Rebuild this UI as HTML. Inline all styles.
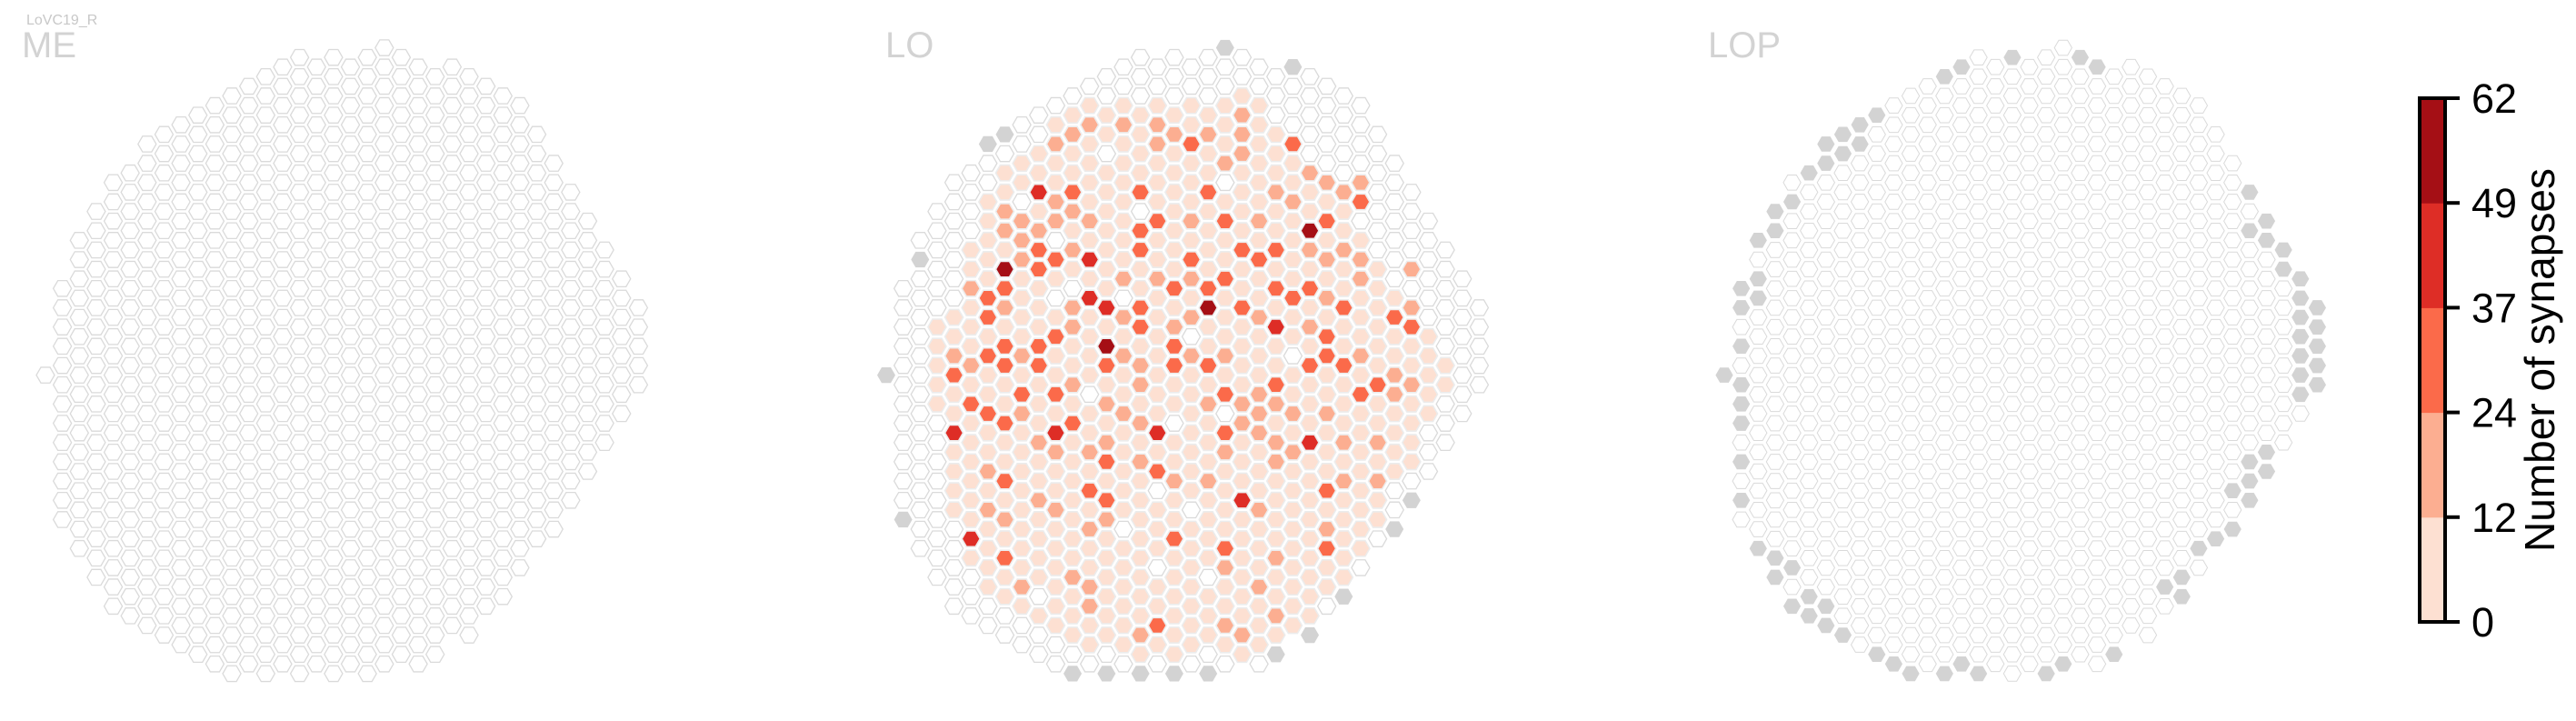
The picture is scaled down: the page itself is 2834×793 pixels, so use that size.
<!DOCTYPE html>
<html><head><meta charset="utf-8">
<style>
html,body{margin:0;padding:0;background:#fff;}
svg{display:block;font-family:"Liberation Sans",sans-serif;}
</style></head>
<body>
<svg id="chart" width="2834" height="793" viewBox="0 0 2834 793" xmlns="http://www.w3.org/2000/svg">
<text x="29" y="27" font-size="16" fill="#c8c8c8">LoVC19_R</text>
<text x="24" y="63" font-size="40" fill="#d3d3d3">ME</text>
<text x="974" y="63" font-size="40" fill="#d3d3d3">LO</text>
<text x="1879" y="63" font-size="40" fill="#d3d3d3">LOP</text>
<g id="panels"></g>
<g id="cbar"></g>
</svg>
<script>
// grid mask (column index -> row index range, rows step by 2)
const colKMin=[0,-9,-14,-17,-20,-21,-24,-25,-26,-27,-28,-29,-30,-31,-32,-33,-32,-33,-32,-33,-34,-33,-32,-31,-32,-31,-30,-29,-28,-25,-22,-19,-16,-13,-10,-7];
const colKMax=[0,15,18,21,24,25,26,27,28,29,30,31,30,31,30,31,30,31,30,31,30,29,30,29,26,27,24,23,20,17,16,13,10,7,4,1];
// colour bin edges and colours
const binEdges=[0,12,24,37,49,62];
const binColors=["#fde0d2","#fcae91","#fb6a4a","#de2d26","#a50f15"];
const tickLabels=["0","12","24","37","49","62"];
// LO data: region with low counts (column -> row range)
const loLowCols=[3,4,5,6,7,8,9,10,11,12,13,14,15,16,17,18,19,20,21,22,23,24,25,26,27,28,29,30,31,32,33];
const loLowMin=[-5,-7,-13,-18,-21,-22,-24,-26,-27,-28,-27,-28,-27,-28,-27,-28,-27,-28,-29,-28,-25,-22,-21,-18,-17,-14,-11,-8,-7,-5,-1];
const loLowMax=[3,14,19,22,23,25,26,27,28,29,28,28,29,28,29,28,27,28,29,28,27,26,25,22,21,18,15,10,9,4,1];
const loLowValue=6;
const loZero=[[15,-17],[13,-23],[20,-20],[8,-18],[10,-14],[23,-16],[14,-8],[10,-8],[18,-4],[20,4],[17,5],[12,2],[24,-2],[11,-9],[16,12],[18,14],[14,16],[19,21],[9,23],[16,20]];
const loCells20=[[12,-26],[14,-26],[16,-26],[21,-27],[11,-25],[17,-25],[19,-25],[21,-25],[10,-24],[16,-24],[21,-23],[20,-22],[25,-21],[26,-20],[28,-20],[27,-19],[23,-19],[10,-18],[11,-17],[24,-18],[7,-17],[8,-16],[10,-16],[12,-16],[18,-16],[22,-16],[7,-15],[9,-15],[8,-14],[11,-13],[25,-13],[27,-13],[8,-12],[26,-12],[28,-12],[31,-11],[14,-10],[16,-10],[18,-10],[28,-10],[5,-9],[26,-8],[7,-7],[11,-7],[14,-6],[18,-6],[22,-6],[31,-7],[11,-5],[17,-5],[25,-5],[19,-4],[4,-2],[8,-2],[14,-2],[18,-2],[20,-2],[28,-2],[5,-1],[15,-1],[11,1],[15,1],[30,0],[31,1],[30,2],[22,2],[19,3],[21,3],[22,4],[23,3],[24,4],[26,4],[8,4],[13,3],[14,4],[15,5],[12,5],[21,5],[22,6],[9,7],[13,7],[23,7],[27,7],[29,7],[6,10],[10,8],[12,8],[20,8],[23,9],[15,9],[24,8],[29,11],[27,11],[19,11],[17,11],[9,13],[6,14],[7,15],[10,14],[13,15],[22,14],[26,16],[12,16],[20,20],[23,19],[11,21],[12,22],[8,22],[22,22],[12,24],[23,25],[20,26],[15,27],[21,27]];
const loCells30=[[11,-19],[15,-19],[19,-19],[18,-24],[24,-24],[28,-18],[26,-16],[16,-16],[20,-16],[15,-15],[9,-13],[15,-13],[21,-13],[23,-13],[10,-12],[18,-12],[22,-12],[9,-11],[7,-9],[20,-10],[17,-9],[19,-9],[23,-9],[25,-9],[6,-8],[24,-8],[15,-7],[21,-7],[27,-7],[6,-6],[30,-6],[15,-5],[31,-5],[10,-4],[26,-4],[7,-3],[9,-3],[17,-3],[6,-2],[26,-2],[7,-1],[9,-1],[13,-1],[17,-1],[19,-1],[25,-1],[27,-1],[4,0],[29,1],[23,1],[8,2],[10,2],[20,2],[28,2],[5,3],[6,4],[7,5],[11,5],[20,6],[13,9],[16,10],[7,11],[12,12],[26,12],[13,13],[17,17],[20,18],[26,18],[7,19],[16,26]];
const loCells43=[[9,-19],[12,-12],[12,-8],[13,-7],[23,-5],[4,6],[10,6],[16,6],[25,7],[21,13],[5,17]];
const loCells55=[[7,-11],[25,-15],[19,-7],[13,-3]];
const loMissing=[[20,-34],[24,-32],[7,-25],[6,-24],[2,-12],[0,0],[1,15],[31,13],[30,16],[27,23],[25,27],[23,29],[19,31],[17,31],[15,31],[13,31],[11,31]];
const lopMissing=[[13,-31],[14,-32],[17,-33],[21,-33],[22,-32],[9,-27],[8,-26],[7,-25],[8,-24],[6,-24],[7,-23],[6,-22],[5,-21],[4,-18],[3,-17],[3,-15],[2,-14],[2,-10],[1,-9],[2,-8],[1,-7],[1,-3],[0,0],[1,1],[1,3],[1,5],[1,9],[1,13],[2,18],[3,19],[4,20],[3,21],[5,23],[4,24],[6,24],[5,25],[6,26],[7,27],[9,29],[10,30],[11,31],[13,31],[14,30],[15,31],[19,31],[20,30],[23,29],[31,-19],[32,-16],[31,-15],[32,-14],[33,-13],[33,-11],[34,-10],[34,-8],[35,-7],[34,-6],[35,-5],[34,-4],[35,-3],[34,-2],[35,-1],[34,0],[35,1],[34,2],[32,8],[31,9],[32,10],[31,11],[30,12],[31,13],[30,16],[29,17],[28,18],[27,21],[26,22],[27,23]];

const NS="http://www.w3.org/2000/svg";
const panelsG=document.getElementById('panels');
const colStep=18.64, rowStep=10.59, x0=50, y0=412.6;
function colX(c,off){return off+x0+colStep*c;}
function rowY(k){return y0+rowStep*k;}
function colorFor(v){
  if(v===null) return "#d3d3d3";
  if(v<=0) return "#ffffff";
  for(let i=1;i<binEdges.length;i++){ if(v<=binEdges[i]) return binColors[i-1]; }
  return binColors[binColors.length-1];
}
function hexPts(cx,cy,r){
  let p=[];
  for(let i=0;i<6;i++){const a=Math.PI/3*i;p.push((cx+r*Math.cos(a)).toFixed(2)+","+(cy+r*Math.sin(a)).toFixed(2));}
  return p.join(" ");
}
function key(c,k){return c+"_"+k;}
function buildLO(){
  const m={};
  loLowCols.forEach((c,i)=>{for(let k=colKMin[c];k<=colKMax[c];k+=2){if(k>=loLowMin[i]&&k<=loLowMax[i]) m[key(c,k)]=loLowValue;}});
  loZero.forEach(a=>{m[key(a[0],a[1])]=0;});
  loCells20.forEach(a=>{m[key(a[0],a[1])]=18;});
  loCells30.forEach(a=>{m[key(a[0],a[1])]=30;});
  loCells43.forEach(a=>{m[key(a[0],a[1])]=43;});
  loCells55.forEach(a=>{m[key(a[0],a[1])]=55;});
  loMissing.forEach(a=>{m[key(a[0],a[1])]=null;});
  return m;
}
function buildLOP(){const m={};lopMissing.forEach(a=>{m[key(a[0],a[1])]=null;});return m;}
function drawPanel(name,off,vals,sw,r){
  const g=document.createElementNS(NS,'g');
  
  
  panelsG.appendChild(g);
  for(let c=0;c<colKMin.length;c++){
    for(let k=colKMin[c];k<=colKMax[c];k+=2){
      const kk=key(c,k);
      const v=(kk in vals)?vals[kk]:0;
      const poly=document.createElementNS(NS,'polygon');
      
      
      poly.setAttribute('points',hexPts(colX(c,off),rowY(k),r));
      poly.setAttribute('fill',colorFor(v));
      if(v===null){poly.setAttribute('stroke','none');}
      else if(v>0){poly.setAttribute('stroke','#ececec');poly.setAttribute('stroke-width',sw+0.3);}
      else {poly.setAttribute('stroke','#dadada');poly.setAttribute('stroke-width',sw);}
      g.appendChild(poly);
    }
  }
}
drawPanel('me',0,{},1.3,10.0);
drawPanel('lo',925,buildLO(),1.3,10.0);
drawPanel('lop',1847,buildLOP(),1.0,9.6);

// colorbar
const cb=document.getElementById('cbar');
const cbX=2662, cbW=28, cbTop=108, cbBot=684;
for(let i=0;i<binColors.length;i++){
  const r=document.createElementNS(NS,'rect');
  
  
  const yTop=cbBot-(i+1)*(cbBot-cbTop)/binColors.length;
  r.setAttribute('x',cbX);r.setAttribute('y',yTop);r.setAttribute('width',cbW);r.setAttribute('height',(cbBot-cbTop)/binColors.length+0.5);
  r.setAttribute('fill',binColors[i]);
  cb.appendChild(r);
}
const border=document.createElementNS(NS,'rect');


border.setAttribute('x',cbX);border.setAttribute('y',cbTop);border.setAttribute('width',cbW);border.setAttribute('height',cbBot-cbTop);
border.setAttribute('fill','none');border.setAttribute('stroke','#000');border.setAttribute('stroke-width','4');
cb.appendChild(border);
tickLabels.forEach((t,i)=>{
  const y=cbTop+(cbBot-cbTop)*(tickLabels.length-1-i)/(tickLabels.length-1);
  const ln=document.createElementNS(NS,'line');
  
  
  ln.setAttribute('x1',cbX+cbW);ln.setAttribute('x2',cbX+cbW+16);ln.setAttribute('y1',y);ln.setAttribute('y2',y);
  ln.setAttribute('stroke','#000');ln.setAttribute('stroke-width','4');
  cb.appendChild(ln);
  const tx=document.createElementNS(NS,'text');
  
  
  tx.setAttribute('x',2719);tx.setAttribute('y',y+16);
  tx.setAttribute('font-size','45');tx.setAttribute('fill','#000');
  tx.textContent=t;
  cb.appendChild(tx);
});
const ttl=document.createElementNS(NS,'text');


ttl.setAttribute('transform','translate(2810,396) rotate(-90)');
ttl.setAttribute('text-anchor','middle');
ttl.setAttribute('font-size','46');ttl.setAttribute('fill','#000');
ttl.textContent='Number of synapses';
cb.appendChild(ttl);
</script>
</body></html>
